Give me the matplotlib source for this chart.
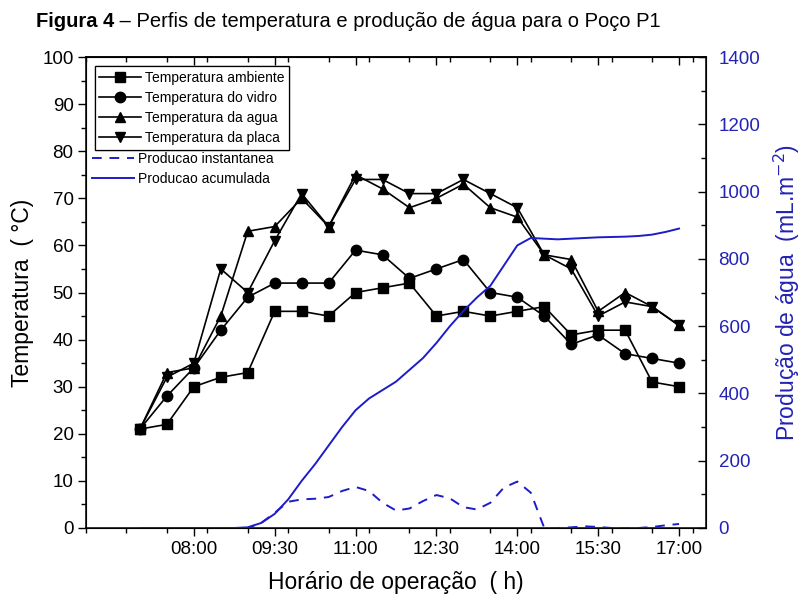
import numpy as np
import matplotlib.pyplot as plt
from matplotlib.ticker import MultipleLocator, FixedLocator

plt.rcParams['font.family'] = ['Liberation Sans', 'DejaVu Sans']

# horario das leituras de temperatura (h)
horas = [7.0, 7.5, 8.0, 8.5, 9.0, 9.5, 10.0, 10.5, 11.0, 11.5, 12.0,
         12.5, 13.0, 13.5, 14.0, 14.5, 15.0, 15.5, 16.0, 16.5, 17.0]
t_ambiente = [21, 22, 30, 32, 33, 46, 46, 45, 50, 51, 52,
              45, 46, 45, 46, 47, 41, 42, 42, 31, 30]
t_vidro = [21, 28, 34, 42, 49, 52, 52, 52, 59, 58, 53,
           55, 57, 50, 49, 45, 39, 41, 37, 36, 35]
t_agua = [21, 33, 34, 45, 63, 64, 70, 64, 75, 72, 68,
          70, 73, 68, 66, 58, 57, 46, 50, 47, 43]
t_placa = [21, 32, 35, 55, 50, 61, 71, 64, 74, 74, 71,
           71, 74, 71, 68, 58, 55, 45, 48, 47, 43]

# producao de agua (mL/m2), leituras a cada 15 min
horas_prod = [7.0, 7.25, 7.5, 7.75, 8.0, 8.25, 8.5, 8.75, 9.0, 9.25, 9.5,
              9.75, 10.0, 10.25, 10.5, 10.75, 11.0, 11.25, 11.5, 11.75, 12.0,
              12.25, 12.5, 12.75, 13.0, 13.25, 13.5, 13.75, 14.0, 14.25, 14.5,
              14.75, 15.0, 15.25, 15.5, 15.75, 16.0, 16.25, 16.5, 16.75, 17.0]
prod_inst = [0, 0, 0, 0, 0, 0, 0, 0, 0, 15, 45,
             78, 85, 87, 92, 110, 122, 110, 75, 52, 58,
             80, 98, 88, 62, 55, 75, 120, 138, 105, 0,
             0, 2, 5, 3, 0, 0, 0, 3, 8, 12]
prod_acum = [0, 0, 0, 0, 0, 0, 0, 0, 2, 15, 42,
             85, 140, 190, 245, 300, 350, 385, 410, 435, 470,
             505, 550, 600, 645, 685, 720, 780, 840, 862, 860,
             858, 860, 862, 864, 865, 866, 868, 872, 880, 890]

tick_horas = [8.0, 9.5, 11.0, 12.5, 14.0, 15.5, 17.0]
tick_labels = ['08:00', '09:30', '11:00', '12:30', '14:00', '15:30', '17:00']

azul = '#1c1cc8'
azul_txt = '#2323b4'
fonte_titulo = ['Liberation Sans Narrow', 'Liberation Sans', 'DejaVu Sans']

fig = plt.figure(figsize=(8.02, 6.01), dpi=100)
ax = fig.add_axes([86 / 802, 1 - 528 / 601, 620 / 802, 471 / 601])

mk = dict(color='black', lw=1.2, ms=7.5)
l1, = ax.plot(horas, t_ambiente, marker='s', **mk)
l2, = ax.plot(horas, t_vidro, marker='o', **mk)
l3, = ax.plot(horas, t_agua, marker='^', **mk)
l4, = ax.plot(horas, t_placa, marker='v', **mk)

ax.set_xlim(6.0, 17.5)
ax.set_ylim(0, 100)
ax.xaxis.set_major_locator(FixedLocator(tick_horas))
ax.set_xticklabels(tick_labels)
ax.xaxis.set_minor_locator(MultipleLocator(0.75))
ax.yaxis.set_major_locator(MultipleLocator(10))
ax.yaxis.set_minor_locator(MultipleLocator(5))
ax.tick_params(which='major', direction='out', length=6, width=1, labelsize=13.5)
ax.tick_params(which='minor', direction='out', length=3.5, width=1)
ax.tick_params(axis='x', pad=3)
ax.tick_params(axis='y', pad=3)
for s in ax.spines.values():
    s.set_linewidth(1.1)

sec = ax.secondary_xaxis('top')
sec.xaxis.set_major_locator(FixedLocator(tick_horas))
sec.xaxis.set_minor_locator(MultipleLocator(0.75))
sec.tick_params(which='major', direction='in', length=6, width=1, labeltop=False)
sec.tick_params(which='minor', direction='in', length=3.5, width=1)
sec.spines['top'].set_linewidth(1.1)

ax.set_ylabel('Temperatura  ( °C)', fontsize=16.5, labelpad=6)
ax.set_xlabel('Horário de operação  ( h)', fontsize=16.5, labelpad=10)

ax2 = ax.twinx()
l5, = ax2.plot(horas_prod, prod_inst, color=azul, lw=1.4, ls=(0, (5, 4)))
l6, = ax2.plot(horas_prod, prod_acum, color=azul, lw=1.4)
ax2.set_ylim(0, 1400)
ax2.yaxis.set_major_locator(MultipleLocator(200))
ax2.yaxis.set_minor_locator(MultipleLocator(100))
ax2.tick_params(which='major', direction='in', length=6, width=1,
                labelsize=13.5, labelcolor=azul_txt, pad=9)
ax2.tick_params(which='minor', direction='in', length=3.5, width=1)
ax2.set_ylabel('Produção de água  (mL.m$^{-2}$)', fontsize=16.5,
               color=azul_txt, labelpad=8)

leg1 = ax.legend([l1, l2, l3, l4],
                 ['Temperatura ambiente', 'Temperatura do vidro',
                  'Temperatura da agua', 'Temperatura da placa'],
                 loc='upper left', bbox_to_anchor=(0.015, 0.98),
                 fontsize=10, frameon=True, fancybox=False,
                 edgecolor='black', framealpha=1, borderpad=0.3,
                 labelspacing=0.45, handlelength=3.0, handletextpad=0.3,
                 borderaxespad=0)
leg1.get_frame().set_linewidth(0.9)
ax.add_artist(leg1)
ax2.legend([l5, l6], ['Producao instantanea', 'Producao acumulada'],
           loc='upper left', bbox_to_anchor=(0.005, 0.805), fontsize=10,
           frameon=False, labelspacing=0.45, handlelength=3.0,
           handletextpad=0.3, borderaxespad=0, borderpad=0.2)

# titulo em duas partes: "Figura 4" em negrito e o resto normal
t1 = fig.text(0.045, 0.955, 'Figura 4', fontsize=14.5, fontweight='bold',
              family=fonte_titulo)
fig.canvas.draw()
bb = t1.get_window_extent().transformed(fig.transFigure.inverted())
fig.text(bb.x1, 0.955, ' – Perfis de temperatura e produção de água para o Poço P1',
         fontsize=14.5, family=fonte_titulo)

fig.savefig('out.png', dpi=100)
